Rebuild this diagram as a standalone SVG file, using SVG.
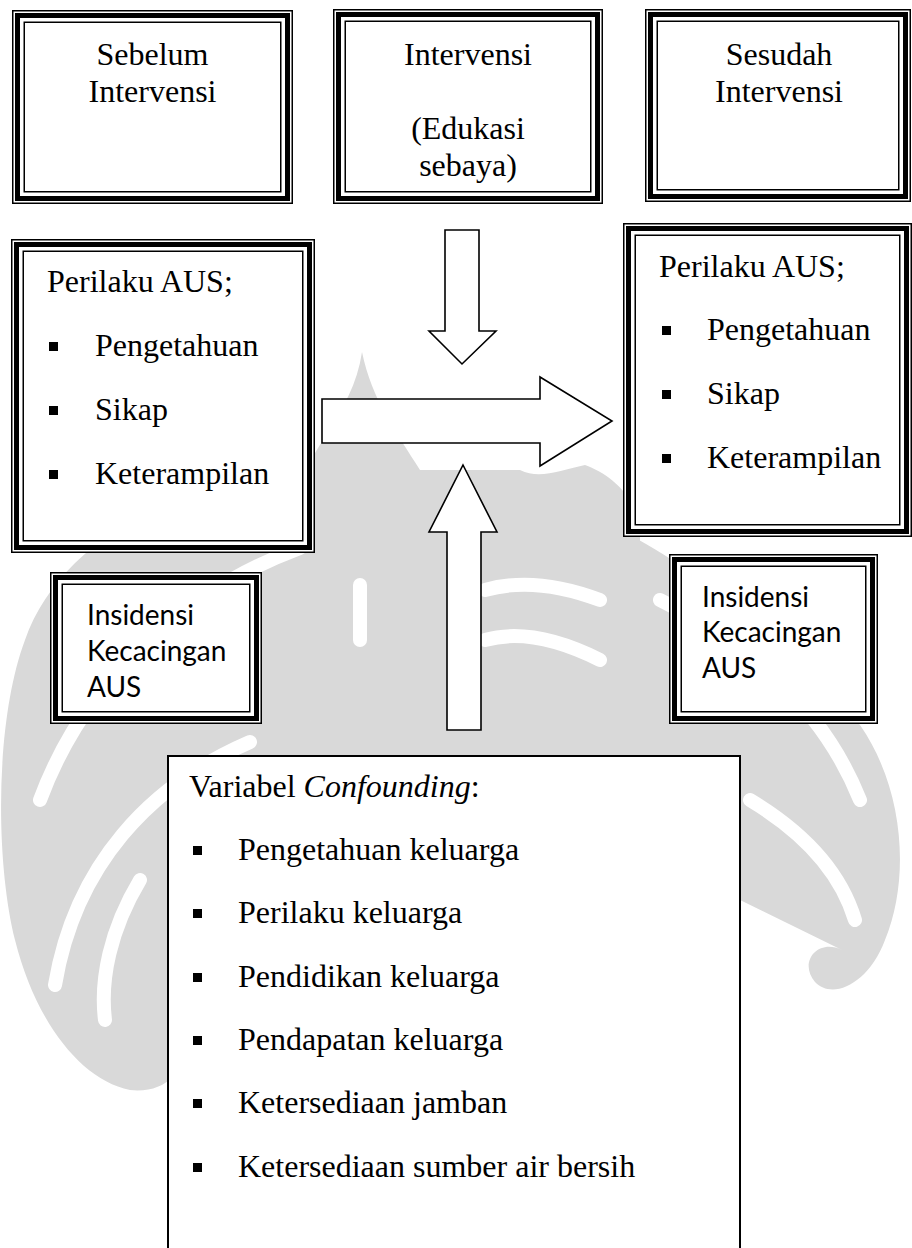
<svg xmlns="http://www.w3.org/2000/svg" width="912" height="1248" viewBox="0 0 912 1248">
<style>
.wm{fill:#d9d9d9;stroke:none}
.wb{fill:none;stroke:#fff;stroke-width:14;stroke-linecap:round}
.f1{fill:#fff;stroke:#000;stroke-width:1.5}
.f2{fill:none;stroke:#000;stroke-width:5}
.f3{fill:none;stroke:#000;stroke-width:1.5}
.t{font-family:"Liberation Serif","Times New Roman",serif;font-size:32px;fill:#000}
.tc{text-anchor:middle}
.s{font-family:Lato,"Open Sans",sans-serif;font-size:28px;fill:#000}
.b{fill:#000}
.ar{fill:#fff;stroke:#000;stroke-width:1.6;stroke-linejoin:miter}
.cf{fill:#fff;stroke:#000;stroke-width:2}
</style>
<rect width="912" height="1248" fill="#fff"/>
<g id="watermark">
<path class="wm" d="M362 352 C352 420 300 450 290 520 L290 757 L640 757 L640 520 C630 490 605 472 585 465 C560 470 540 480 520 470 L420 470 C395 430 372 400 362 352 Z"/>
<path class="wm" d="M300 470 C180 480 60 540 25 640 C-5 720 -5 860 15 940 C35 1020 80 1080 130 1090 C175 1095 195 1055 180 1030 C165 1005 130 1010 128 1035 L168 1040 L168 757 L300 757 Z"/>
<path class="wm" d="M620 530 C700 570 800 650 860 725 C905 790 910 880 885 940 C868 985 832 1000 815 982 C798 962 818 938 842 950 L740 900 L740 757 L620 757 Z"/>
<path class="wb" d="M300 548 C200 585 90 665 40 800"/>
<path class="wb" d="M250 742 C150 785 75 865 55 985"/>
<path class="wb" d="M140 880 C110 930 100 980 105 1020"/>
<path class="wb" d="M660 600 C740 640 820 700 860 800"/>
<path class="wb" d="M750 800 C800 830 840 870 855 920"/>
<path class="wb" d="M360 585 L360 640"/>
<path class="wb" d="M485 590 C520 580 560 585 600 600"/>
<path class="wb" d="M485 640 C520 630 560 640 600 660"/>
</g>
<g id="connectors">
<path class="ar" d="M445 230 L479 230 L479 331 L496 331 L462 364 L429 331 L445 331 Z"/>
<path class="ar" d="M322 399 L540 399 L540 377 L612 421 L540 466 L540 443 L322 443 Z"/>
<path class="ar" d="M463 465 L497 532 L481 532 L481 730 L447 730 L447 532 L429 532 Z"/>
</g>
<g id="sebelum">
<rect class="f1" x="12.75" y="10.75" width="279.5" height="192.5"/>
<rect class="f2" x="17.5" y="15.5" width="270" height="183"/>
<rect class="f3" x="24.25" y="22.25" width="256.5" height="169.5"/>
<text class="t tc" x="152.5" y="65">Sebelum</text>
<text class="t tc" x="152.5" y="102">Intervensi</text>
</g>
<g id="intervensi">
<rect class="f1" x="333.75" y="9.75" width="268.5" height="193.5"/>
<rect class="f2" x="338.5" y="14.5" width="259" height="184"/>
<rect class="f3" x="345.25" y="21.25" width="245.5" height="170.5"/>
<text class="t tc" x="468" y="65">Intervensi</text>
<text class="t tc" x="468" y="139">(Edukasi</text>
<text class="t tc" x="468" y="176">sebaya)</text>
</g>
<g id="sesudah">
<rect class="f1" x="645.75" y="9.75" width="264.5" height="191.5"/>
<rect class="f2" x="650.5" y="14.5" width="255" height="182"/>
<rect class="f3" x="657.25" y="21.25" width="241.5" height="168.5"/>
<text class="t tc" x="779" y="65">Sesudah</text>
<text class="t tc" x="779" y="102">Intervensi</text>
</g>
<g id="perilaku-sebelum">
<rect class="f1" x="11.75" y="239.75" width="302.5" height="312.5"/>
<rect class="f2" x="16.5" y="244.5" width="293" height="303"/>
<rect class="f3" x="23.25" y="251.25" width="279.5" height="289.5"/>
<text class="t" x="47" y="292">Perilaku AUS;</text>
<rect class="b" x="49" y="342" width="9" height="9"/>
<text class="t" x="95" y="356">Pengetahuan</text>
<rect class="b" x="49" y="406" width="9" height="9"/>
<text class="t" x="95" y="420">Sikap</text>
<rect class="b" x="49" y="470" width="9" height="9"/>
<text class="t" x="95" y="484">Keterampilan</text>
</g>
<g id="perilaku-sesudah">
<rect class="f1" x="623.75" y="223.75" width="287.5" height="312.5"/>
<rect class="f2" x="628.5" y="228.5" width="278" height="303"/>
<rect class="f3" x="635.25" y="235.25" width="264.5" height="289.5"/>
<text class="t" x="659" y="277">Perilaku AUS;</text>
<rect class="b" x="662" y="326" width="9" height="9"/>
<text class="t" x="707" y="340">Pengetahuan</text>
<rect class="b" x="662" y="390" width="9" height="9"/>
<text class="t" x="707" y="404">Sikap</text>
<rect class="b" x="662" y="454" width="9" height="9"/>
<text class="t" x="707" y="468">Keterampilan</text>
</g>
<g id="insidensi-sebelum">
<rect class="f1" x="50.75" y="572.75" width="210.5" height="150.5"/>
<rect class="f2" x="55.5" y="577.5" width="201" height="141"/>
<rect class="f3" x="62.25" y="584.25" width="187.5" height="127.5"/>
<text class="s" x="87" y="625">Insidensi</text>
<text class="s" x="87" y="661">Kecacingan</text>
<text class="s" x="87" y="697">AUS</text>
</g>
<g id="insidensi-sesudah">
<rect class="f1" x="669.75" y="554.75" width="207.5" height="168.5"/>
<rect class="f2" x="674.5" y="559.5" width="198" height="159"/>
<rect class="f3" x="681.25" y="566.25" width="184.5" height="145.5"/>
<text class="s" x="702" y="607">Insidensi</text>
<text class="s" x="702" y="642">Kecacingan</text>
<text class="s" x="702" y="678">AUS</text>
</g>
<g id="confounding">
<rect class="cf" x="168" y="756" width="572" height="520"/>
<text class="t" x="189" y="797">Variabel <tspan font-style="italic">Confounding</tspan>:</text>
<rect class="b" x="193" y="846" width="9" height="9"/>
<text class="t" x="238" y="860">Pengetahuan keluarga</text>
<rect class="b" x="193" y="909" width="9" height="9"/>
<text class="t" x="238" y="923">Perilaku keluarga</text>
<rect class="b" x="193" y="973" width="9" height="9"/>
<text class="t" x="238" y="987">Pendidikan keluarga</text>
<rect class="b" x="193" y="1036" width="9" height="9"/>
<text class="t" x="238" y="1050">Pendapatan keluarga</text>
<rect class="b" x="193" y="1099" width="9" height="9"/>
<text class="t" x="238" y="1113">Ketersediaan jamban</text>
<rect class="b" x="193" y="1163" width="9" height="9"/>
<text class="t" x="238" y="1177">Ketersediaan sumber air bersih</text>
</g>
</svg>
